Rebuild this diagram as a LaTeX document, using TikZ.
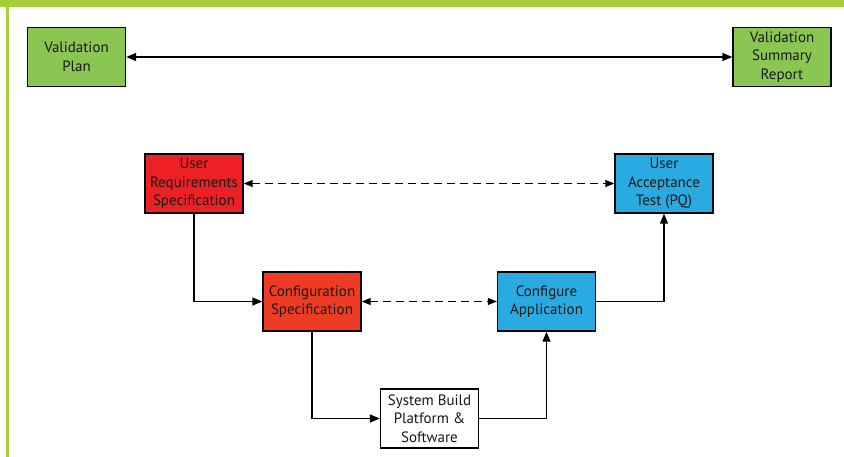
\documentclass[tikz,border=0pt]{standalone}
\usepackage{fontspec}
\setmainfont{PT Sans}
\usetikzlibrary{arrows.meta}
\definecolor{barcol}{RGB}{166,206,57}
\definecolor{plangreen}{RGB}{139,197,82}
\definecolor{ursred}{RGB}{237,32,36}
\definecolor{csred}{RGB}{238,59,36}
\definecolor{testblue}{RGB}{41,171,226}

\begin{document}
\begin{tikzpicture}[x=1pt,y=-1pt,
    box/.style={draw, line width=1.4pt, minimum width=98pt, minimum height=59pt,
        inner sep=0pt, align=center, text=black!90,
        font=\fontsize{15}{18.5}\selectfont},
    flow/.style={line width=1.4pt, -{Triangle[length=10pt,width=8pt]}},
    link/.style={line width=1pt, dash pattern=on 8pt off 5pt,
        {Triangle[length=9pt,width=7pt]}-{Triangle[length=9pt,width=7pt]}}]
    \useasboundingbox (0,0) rectangle (844,457);
    % frame
    \fill[barcol] (0,0) rectangle (844,7);
    \fill[barcol] (6,0) rectangle (9,457);
    % boxes
    \node[box, fill=plangreen] (plan) at (76.5,57) {Validation\\Plan};
    \node[box, fill=plangreen] (report) at (782,57) {Validation\\Summary\\Report};
    \node[box, fill=ursred] (urs) at (194,183.5) {User\\Requirements\\Specification};
    \node[box, fill=csred] (cspec) at (312,301.5) {Configuration\\Specification};
    \node[box, fill=testblue] (uat) at (664,183.5) {User\\Acceptance\\Test (PQ)};
    \node[box, fill=testblue] (capp) at (546.5,301.5) {Configure\\Application};
    \node[box, fill=white] (build) at (429.5,418.5) {System Build\\Platform \&\\Software};
    % connectors
    \draw[flow, {Triangle[length=10pt,width=8pt]}-{Triangle[length=10pt,width=8pt]}] (plan) -- (report);
    \draw[link] (urs) -- (uat);
    \draw[link] (cspec) -- (capp);
    \draw[flow] (urs) |- (cspec);
    \draw[flow] (cspec) |- (build);
    \draw[flow] (build) -| (capp);
    \draw[flow] (capp) -| (uat);
\end{tikzpicture}
\end{document}
